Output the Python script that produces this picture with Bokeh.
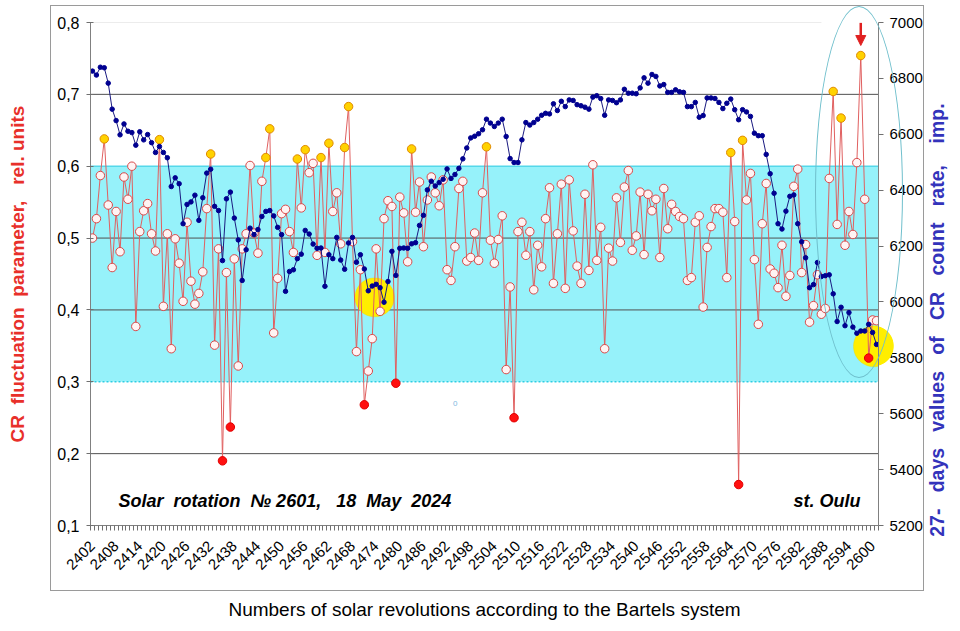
import numpy as np
from bokeh.plotting import figure
from bokeh.models import (Range1d, LinearAxis, FixedTicker, CustomJSTickFormatter,
                          BoxAnnotation, Span, PolyAnnotation, Label, Arrow, NormalHead,
                          ColumnDataSource, InlineStyleSheet)
from bokeh.embed import file_html
from bokeh.resources import INLINE

# ---------------- data ----------------
rotations = list(range(2402, 2602))

cr_fluct = [
    0.500, 0.527, 0.587, 0.638, 0.546, 0.459, 0.537, 0.481, 0.585, 0.554,
    0.600, 0.377, 0.509, 0.538, 0.548, 0.506, 0.482, 0.637, 0.405, 0.506,
    0.346, 0.499, 0.465, 0.412, 0.522, 0.440, 0.408, 0.423, 0.453, 0.541,
    0.617, 0.351, 0.485, 0.190, 0.452, 0.237, 0.471, 0.322, 0.485, 0.506,
    0.601, 0.507, 0.479, 0.579, 0.612, 0.652, 0.368, 0.444, 0.534, 0.540,
    0.509, 0.480, 0.610, 0.542, 0.623, 0.591, 0.604, 0.476, 0.612, 0.480,
    0.632, 0.537, 0.563, 0.492, 0.626, 0.683, 0.495, 0.342, 0.456, 0.268,
    0.315, 0.360, 0.485, 0.398, 0.527, 0.552, 0.544, 0.298, 0.557, 0.535,
    0.467, 0.624, 0.536, 0.578, 0.488, 0.553, 0.585, 0.563, 0.545, 0.581,
    0.456, 0.441, 0.488, 0.569, 0.579, 0.468, 0.473, 0.507, 0.469, 0.563,
    0.627, 0.497, 0.465, 0.498, 0.531, 0.317, 0.432, 0.250, 0.509, 0.522,
    0.476, 0.509, 0.428, 0.490, 0.460, 0.527, 0.570, 0.437, 0.506, 0.575,
    0.430, 0.581, 0.510, 0.461, 0.437, 0.561, 0.455, 0.602, 0.469, 0.515,
    0.346, 0.486, 0.468, 0.556, 0.494, 0.571, 0.594, 0.483, 0.503, 0.564,
    0.477, 0.561, 0.538, 0.554, 0.473, 0.569, 0.513, 0.547, 0.537, 0.530,
    0.527, 0.441, 0.445, 0.522, 0.531, 0.404, 0.487, 0.516, 0.541, 0.541,
    0.536, 0.445, 0.619, 0.523, 0.157, 0.636, 0.553, 0.590, 0.470, 0.380,
    0.520, 0.576, 0.457, 0.451, 0.431, 0.490, 0.419, 0.448, 0.572, 0.596,
    0.452, 0.491, 0.383, 0.406, 0.449, 0.394, 0.402, 0.583, 0.704, 0.519,
    0.667, 0.490, 0.537, 0.505, 0.605, 0.754, 0.554, 0.333, 0.386, 0.385,
]

count_rate = [
    6826, 6812, 6840, 6838, 6783, 6690, 6649, 6598, 6637, 6611,
    6606, 6561, 6609, 6580, 6599, 6570, 6535, 6556, 6535, 6516,
    6413, 6444, 6423, 6280, 6349, 6358, 6382, 6292, 6373, 6461,
    6475, 6342, 6327, 6148, 6369, 6393, 6300, 6222, 6077, 6187,
    6264, 6241, 6259, 6306, 6324, 6327, 6308, 6267, 6241, 6038,
    6109, 6115, 6155, 6171, 6256, 6243, 6207, 6192, 6193, 6056,
    6169, 6155, 6231, 6150, 6117, 6211, 6231, 6142, 6169, 6118,
    6040, 6057, 6063, 6051, 5999, 6073, 6181, 6095, 6192, 6193,
    6192, 6208, 6212, 6274, 6310, 6401, 6432, 6415, 6427, 6439,
    6476, 6442, 6456, 6478, 6512, 6551, 6587, 6593, 6602, 6616,
    6654, 6640, 6628, 6640, 6654, 6592, 6513, 6499, 6499, 6580,
    6642, 6633, 6642, 6654, 6668, 6675, 6673, 6709, 6685, 6718,
    6699, 6723, 6721, 6706, 6702, 6697, 6690, 6733, 6738, 6728,
    6668, 6723, 6721, 6713, 6723, 6761, 6747, 6747, 6745, 6766,
    6802, 6783, 6814, 6807, 6773, 6778, 6750, 6750, 6759, 6752,
    6750, 6699, 6699, 6714, 6661, 6667, 6730, 6730, 6728, 6714,
    6692, 6711, 6726, 6688, 6652, 6688, 6680, 6664, 6604, 6595,
    6595, 6528, 6459, 6389, 6280, 6261, 6325, 6378, 6383, 6280,
    6215, 6158, 6051, 6062, 6141, 6091, 6094, 6097, 6029, 5930,
    5981, 5915, 5962, 5910, 5888, 5896, 5896, 5920, 5891, 5848,
]

high_rot = [2405, 2419, 2432, 2446, 2447, 2454, 2456, 2460, 2462, 2466, 2467,
            2483, 2502, 2564, 2567, 2590, 2592, 2597]
low_rot = [2435, 2437, 2471, 2479, 2509, 2566, 2599]

x_tick_labels = list(range(2402, 2601, 6))
left_ticks = [0.1, 0.2, 0.3, 0.4, 0.5, 0.6, 0.7, 0.8]
right_ticks = [5200, 5400, 5600, 5800, 6000, 6200, 6400, 6600, 6800, 7000]

assert len(cr_fluct) == len(rotations) == len(count_rate)

FONT = "Liberation Sans"
NB = "\u00a0"
GAP = NB + NB + " "

# ---------------- figure ----------------
p = figure(width=952, height=623, x_range=Range1d(2401.5, 2601.5), y_range=Range1d(0.1, 0.8),
           output_backend="svg", toolbar_location=None,
           min_border_left=90, min_border_right=74, min_border_top=22, min_border_bottom=98)
p.outline_line_color = None
p.xgrid.visible = False
p.ygrid.visible = False
p.extra_y_ranges = {"cr": Range1d(5200, 7000)}

# x axis
xa = p.xaxis[0]
xa.ticker = FixedTicker(ticks=x_tick_labels,
                        minor_ticks=[r - 0.5 for r in rotations] + [rotations[-1] + 0.5])
xa.major_tick_in = 0
xa.major_tick_out = 0
xa.minor_tick_in = 0
xa.minor_tick_out = 5
xa.minor_tick_line_color = "#707070"
xa.axis_line_color = "#808080"
xa.major_label_orientation = np.pi / 4
xa.major_label_text_font = FONT
xa.major_label_text_font_size = "15px"
xa.major_label_text_color = "#000000"
xa.major_label_standoff = 13
xa.axis_label = "Numbers of solar revolutions according to the Bartels system"
xa.axis_label_text_font = FONT
xa.axis_label_text_font_style = "normal"
xa.axis_label_text_font_size = "19px"
xa.axis_label_text_color = "#000000"
xa.axis_label_standoff = 22

# left axis (red title)
ya = p.yaxis[0]
ya.ticker = FixedTicker(ticks=left_ticks)
ya.formatter = CustomJSTickFormatter(code="return tick.toFixed(1).replace('.', ',');")
ya.major_tick_in = 3
ya.major_tick_out = 4
ya.minor_tick_line_color = None
ya.axis_line_color = "#808080"
ya.major_tick_line_color = "#707070"
ya.major_label_text_font = FONT
ya.major_label_text_font_size = "16px"
ya.major_label_text_color = "#000000"
ya.major_label_standoff = 7
ya.axis_label = "CR" + NB + " fluctuation" + NB + " parameter," + NB + NB + " rel." + NB + "units"
ya.axis_label_text_font = FONT
ya.axis_label_text_font_style = "bold"
ya.axis_label_text_font_size = "19px"
ya.axis_label_text_color = "#E8302A"
ya.axis_label_standoff = 26

# right axis (count rate scale)
ra = LinearAxis(y_range_name="cr", ticker=FixedTicker(ticks=right_ticks))
ra.major_tick_in = 0
ra.major_tick_out = 5
ra.minor_tick_line_color = None
ra.axis_line_color = "#808080"
ra.major_tick_line_color = "#707070"
ra.major_label_text_font = FONT
ra.major_label_text_font_size = "15px"
ra.major_label_text_color = "#000000"
ra.major_label_standoff = 6
p.add_layout(ra, "right")

# title of the count-rate scale: an empty axis whose label is carried to the far right
# so that it reads bottom-to-top like the reference
ta = LinearAxis(y_range_name="cr", ticker=FixedTicker(ticks=[]))
ta.axis_line_color = None
ta.major_tick_line_color = None
ta.minor_tick_line_color = None
ta.major_tick_in = 0
ta.major_tick_out = 0
ta.minor_tick_in = 0
ta.minor_tick_out = 0
ta.major_label_text_font_size = "0px"
ta.axis_label = ("27-" + GAP + "days" + GAP + "values" + GAP + "of" + GAP + "CR" + GAP +
                 "count" + GAP + "rate," + GAP + NB + "imp." + NB * 17)
ta.axis_label_text_font = FONT
ta.axis_label_text_font_style = "bold"
ta.axis_label_text_font_size = "19.5px"
ta.axis_label_text_color = "#3333BB"
ta.axis_label_standoff = -943
p.add_layout(ta, "left")

# ---------------- background band / grid ----------------
p.add_layout(BoxAnnotation(bottom=0.3, top=0.6, fill_color="#96F2FA", fill_alpha=1.0,
                           line_color=None, level="underlay"))
for gv in [0.2, 0.4, 0.5, 0.7]:
    p.add_layout(Span(location=gv, dimension="width", line_color="#505050", line_width=1,
                      level="underlay"))
p.add_layout(Span(location=0.6, dimension="width", line_color="#55D8EA", line_width=1.5,
                  level="underlay"))
p.add_layout(Span(location=0.3, dimension="width", line_color="#30CDE3", line_width=1.5,
                  line_dash="2 2", level="underlay"))
p.add_layout(BoxAnnotation(left=2401.5, right=2587, top=0.8, bottom=0.8, fill_alpha=0,
                           line_color="#BBBBBB", line_width=1, level="underlay"))

# yellow highlight circles (behind the data)
def ell(cx, cy, rx, ry, n=120):
    t = np.linspace(0, 2 * np.pi, n)
    return list(cx + rx * np.cos(t)), list(cy + ry * np.sin(t))

for (cx, cy, rx, ry) in [(2473.6, 0.4175, 5.0, 0.0271), (2600.35, 0.3494, 5.2, 0.0285)]:
    xs, ys = ell(cx, cy, rx, ry)
    p.add_layout(PolyAnnotation(xs=xs, ys=ys, fill_color="#FFEE00", fill_alpha=1.0,
                                line_color="#E6D400", line_width=1, level="underlay"))

# ---------------- series ----------------
red_src = ColumnDataSource(dict(x=rotations, y=cr_fluct))
p.line("x", "y", source=red_src, line_color="#E06060", line_width=1)

open_x = [r for r in rotations if r not in high_rot and r not in low_rot]
open_y = [v for r, v in zip(rotations, cr_fluct) if r not in high_rot and r not in low_rot]
hi_y = [v for r, v in zip(rotations, cr_fluct) if r in high_rot]
lo_y = [v for r, v in zip(rotations, cr_fluct) if r in low_rot]
p.scatter(open_x, open_y, size=8.5, fill_color="#FFF3F3", line_color="#D84848", line_width=1)
p.scatter(high_rot, hi_y, size=8.5, fill_color="#FFD200", line_color="#E08A00", line_width=1)
p.scatter(low_rot, lo_y, size=8.5, fill_color="#FF1010", line_color="#E00000", line_width=1)

blue_src = ColumnDataSource(dict(x=rotations, y=count_rate))
p.line("x", "y", source=blue_src, y_range_name="cr", line_color="#1A1A80", line_width=1)
p.scatter("x", "y", source=blue_src, y_range_name="cr", size=4.5, fill_color="#000090",
          line_color="#000090")

# ---------------- annotations ----------------
p.add_layout(Arrow(end=NormalHead(size=10, fill_color="#E02020", line_color="#E02020"),
                   x_start=2597, y_start=0.7995, x_end=2597, y_end=0.768,
                   line_color="#E02020", line_width=2.5))

p.add_layout(Label(x=2408.6, y=0.1338,
                   text="Solar" + NB + " rotation" + NB + " № 2601," + NB + NB + " 18" + NB +
                        " May" + NB + " 2024",
                   text_font=FONT, text_font_style="bold italic", text_font_size="18px",
                   text_color="#000000", text_baseline="alphabetic"))
p.add_layout(Label(x=2596.9, y=0.1338, text="st. Oulu", text_align="right",
                   text_font=FONT, text_font_style="bold italic", text_font_size="18px",
                   text_color="#000000", text_baseline="alphabetic"))
p.add_layout(Label(x=2494.1, y=0.27, text="0", text_align="center", text_baseline="middle",
                   text_font=FONT, text_font_size="8px", text_color="#7FB8E0"))

# shapes that reach outside the plot frame: cyan ellipse, chart-area border,
# and the part of the right yellow circle beyond the right axis
css = """
:host { position: relative; }
:host::before {
  content: ""; position: absolute; left: 815px; top: 6px; width: 88px; height: 372px;
  border: 1px solid #6FBFCC; border-radius: 50%; box-sizing: border-box;
  pointer-events: none; z-index: 10;
}
:host::after {
  content: ""; position: absolute; left: 50px; top: 5px; width: 874px; height: 586px;
  border: 1.5px solid #9A9A9A; box-sizing: border-box; pointer-events: none; z-index: 9;
  background-image: radial-gradient(circle 20.5px at -5.5px 21px, #FFEE00 0px, #FFEE00 19.8px, rgba(255,238,0,0) 20.6px);
  background-origin: border-box;
  background-position: 829px 320px;
  background-size: 17px 42px;
  background-repeat: no-repeat;
}
"""
p.stylesheets = [InlineStyleSheet(css=css)]

open("out.html", "w").write(file_html(p, INLINE))
